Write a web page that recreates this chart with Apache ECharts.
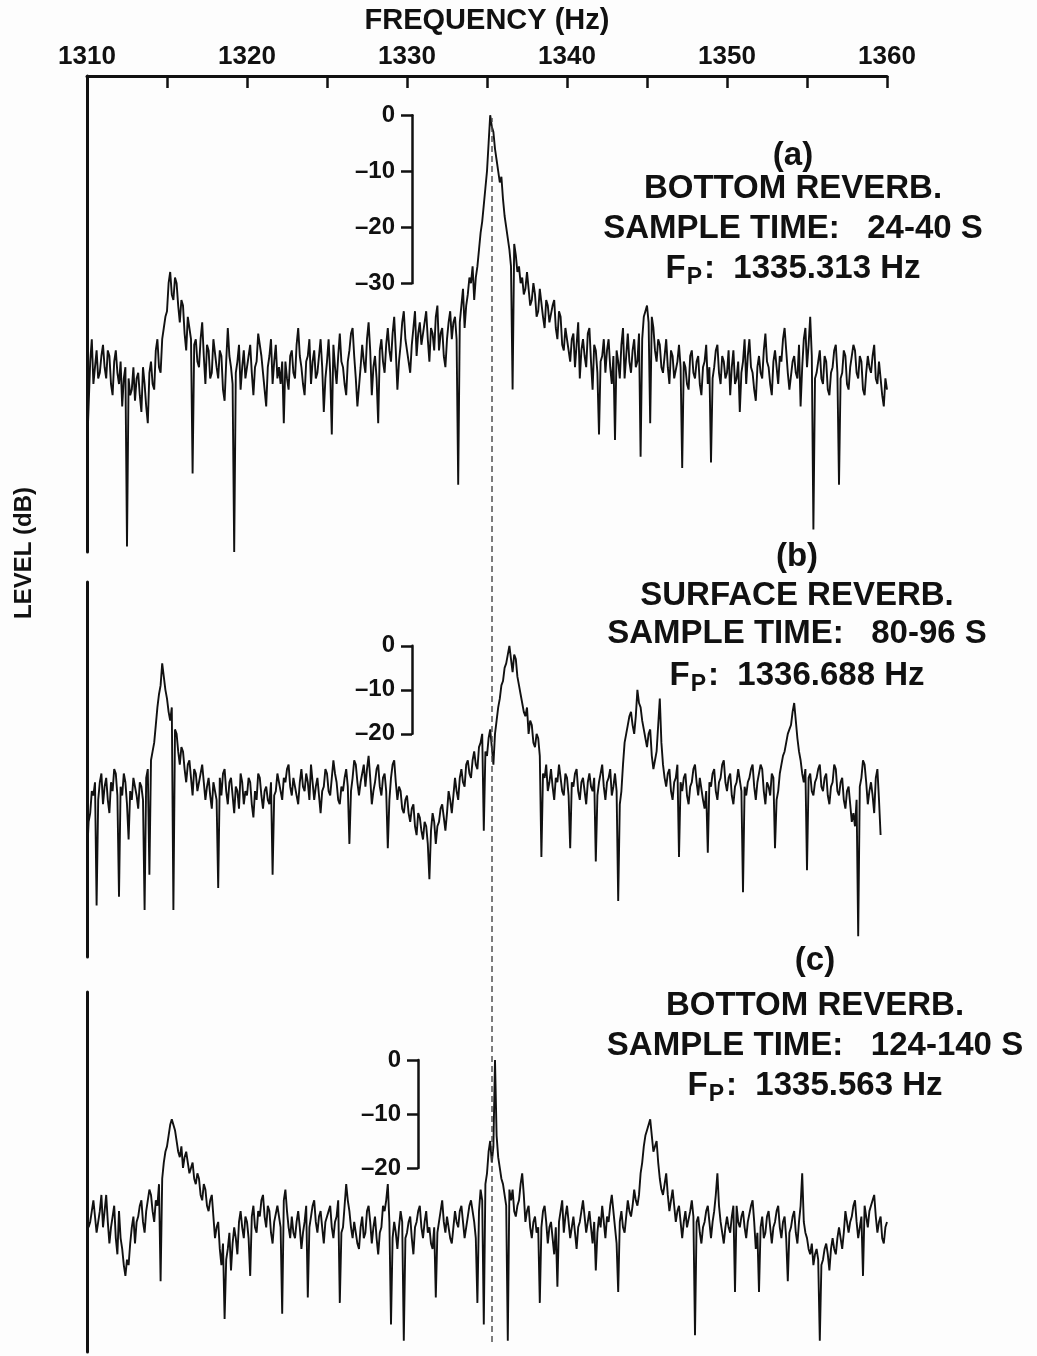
<!DOCTYPE html>
<html>
<head>
<meta charset="utf-8">
<script src="https://cdn.jsdelivr.net/npm/echarts@6/dist/echarts.min.js"></script>
<style>
  html, body { margin: 0; padding: 0; background: #fdfdfd; }
  #chart { width: 1037px; height: 1356px; }
</style>
</head>
<body>
<div id="chart"></div>
<script>
// frequency grid of the spectra (Hz)
const FREQ_START = 1310;
const FREQ_STEP = 0.1;
const FREQ_MIN = 1310;
const FREQ_MAX = 1360;
const REF_FREQ = 1335.313;   // dashed line, Fp of panel (a)

// levels in dB, one value per 0.1 Hz from 1310 Hz (one line = 1 Hz)
const levelA = [
  -60, -52, -44, -40, -48, -45, -42, -47, -46, -43,
  -41, -45, -47, -42, -43, -48, -50, -44, -42, -46,
  -48, -44, -52, -47, -45, -77, -47, -50, -49, -45,
  -51, -47, -46, -50, -53, -45, -48, -52, -55, -46,
  -44, -48, -49, -42, -40, -45, -46, -40, -38, -36,
  -35, -30, -28, -32, -33, -29, -30, -34, -37, -33,
  -34, -39, -42, -36, -38, -40, -64, -41, -40, -44,
  -45, -40, -37, -43, -48, -41, -42, -47, -46, -40,
  -40, -45, -47, -42, -43, -49, -51, -44, -38, -43,
  -45, -48, -78, -46, -44, -41, -49, -45, -42, -47,
  -47, -43, -41, -46, -50, -45, -44, -39, -39, -43,
  -46, -49, -52, -45, -43, -40, -48, -44, -41, -47,
  -45, -48, -44, -55, -44, -47, -49, -43, -42, -46,
  -47, -41, -38, -43, -45, -48, -50, -44, -43, -40,
  -48, -44, -42, -47, -46, -43, -40, -45, -53, -47,
  -44, -40, -46, -57, -41, -45, -48, -43, -39, -44,
  -45, -48, -50, -44, -42, -39, -38, -43, -47, -52,
  -52, -45, -41, -44, -46, -40, -37, -42, -50, -45,
  -43, -47, -55, -42, -40, -44, -46, -41, -38, -42,
  -44, -39, -36, -42, -49, -44, -41, -37, -35, -40,
  -40, -44, -46, -41, -38, -35, -43, -39, -37, -41,
  -41, -37, -35, -40, -44, -38, -39, -42, -36, -34,
  -42, -39, -38, -43, -45, -40, -37, -35, -40, -37,
  -36, -40, -66, -37, -34, -31, -38, -34, -32, -29,
  -30, -27, -33, -29, -27, -24, -21, -19, -16, -13,
  -10, -5, 0, -2, -3, -6, -8, -10, -12, -11,
  -15, -18, -20, -22, -24, -27, -49, -23, -25, -28,
  -27, -30, -29, -32, -31, -28, -28, -34, -33, -30,
  -32, -36, -35, -31, -31, -36, -38, -33, -34, -37,
  -37, -34, -33, -38, -40, -35, -36, -41, -42, -38,
  -38, -42, -44, -40, -39, -45, -41, -37, -47, -42,
  -40, -43, -45, -39, -38, -44, -49, -41, -42, -46,
  -57, -44, -43, -40, -46, -42, -40, -45, -48, -43,
  -58, -42, -44, -47, -41, -38, -47, -43, -39, -44,
  -46, -42, -40, -45, -44, -39, -61, -40, -36, -35,
  -34, -37, -55, -36, -38, -42, -44, -40, -41, -45,
  -46, -43, -40, -45, -48, -42, -43, -47, -47, -44,
  -41, -45, -63, -44, -45, -48, -49, -43, -42, -46,
  -47, -44, -43, -48, -50, -45, -44, -41, -48, -45,
  -62, -47, -45, -42, -41, -46, -48, -43, -44, -47,
  -46, -42, -50, -45, -42, -48, -47, -44, -53, -46,
  -44, -40, -48, -43, -40, -45, -46, -49, -51, -45,
  -43, -46, -47, -42, -39, -44, -45, -48, -50, -44,
  -42, -45, -48, -43, -44, -40, -38, -42, -46, -49,
  -49, -44, -43, -46, -47, -41, -52, -45, -40, -38,
  -45, -41, -36, -43, -74, -47, -46, -44, -42, -47,
  -48, -43, -44, -49, -50, -46, -45, -42, -41, -46,
  -66, -47, -46, -42, -43, -48, -49, -45, -45, -41,
  -42, -46, -47, -43, -44, -49, -50, -46, -43, -45,
  -46, -43, -41, -47, -48, -44, -44, -50, -52, -47,
  -49
];

const levelB = [
  -48, -40, -38, -33, -34, -31, -59, -35, -31, -29,
  -36, -32, -30, -35, -38, -31, -33, -28, -29, -34,
  -57, -32, -34, -29, -31, -36, -44, -33, -35, -30,
  -30, -34, -37, -31, -32, -35, -60, -30, -28, -52,
  -26, -24, -22, -18, -14, -11, -9, -4, -7, -10,
  -12, -15, -17, -14, -60, -19, -20, -24, -27, -23,
  -24, -28, -31, -27, -26, -30, -34, -28, -29, -33,
  -33, -29, -27, -31, -35, -32, -30, -34, -37, -31,
  -31, -35, -55, -30, -34, -29, -28, -33, -36, -31,
  -30, -34, -38, -32, -33, -37, -29, -31, -36, -33,
  -34, -30, -31, -36, -39, -33, -35, -29, -30, -34,
  -37, -33, -32, -35, -36, -31, -52, -34, -33, -29,
  -29, -33, -35, -30, -31, -28, -27, -32, -34, -30,
  -30, -34, -36, -31, -28, -32, -33, -29, -31, -35,
  -27, -31, -35, -32, -30, -34, -38, -33, -32, -28,
  -29, -33, -34, -30, -26, -29, -31, -35, -36, -32,
  -33, -30, -28, -32, -45, -33, -30, -26, -27, -31,
  -34, -31, -29, -27, -32, -28, -25, -30, -36, -33,
  -31, -28, -27, -32, -34, -30, -29, -33, -46, -35,
  -30, -27, -26, -31, -35, -32, -33, -37, -38, -35,
  -34, -38, -40, -37, -36, -41, -43, -38, -39, -42,
  -44, -40, -41, -45, -53, -42, -38, -40, -45, -41,
  -40, -37, -36, -39, -42, -38, -33, -35, -38, -34,
  -30, -33, -35, -30, -28, -31, -32, -27, -26, -29,
  -30, -26, -24, -27, -28, -23, -22, -20, -42, -24,
  -25, -21, -19, -23, -27, -20, -17, -14, -12, -9,
  -8, -5, -4, -2, 0, -3, -6, -2, -3, -7,
  -9, -11, -13, -15, -16, -14, -20, -17, -18, -22,
  -23, -20, -21, -25, -48, -29, -30, -27, -33, -31,
  -28, -32, -35, -30, -31, -27, -27, -33, -34, -29,
  -30, -34, -46, -31, -32, -29, -28, -33, -35, -31,
  -30, -33, -36, -31, -29, -32, -33, -30, -49, -34,
  -31, -29, -27, -32, -35, -31, -30, -28, -34, -32,
  -29, -33, -58, -36, -33, -27, -22, -20, -18, -16,
  -15, -18, -20, -16, -10, -13, -14, -17, -19, -21,
  -23, -20, -19, -25, -28, -26, -24, -18, -12, -22,
  -27, -30, -32, -29, -28, -33, -35, -31, -30, -27,
  -48, -31, -33, -30, -29, -34, -36, -32, -31, -28,
  -27, -31, -34, -30, -30, -35, -37, -33, -47, -31,
  -32, -29, -28, -33, -35, -31, -30, -27, -26, -31,
  -33, -30, -29, -34, -36, -32, -31, -28, -28, -33,
  -56, -32, -34, -31, -30, -28, -27, -32, -35, -31,
  -31, -27, -28, -33, -36, -31, -32, -34, -29, -30,
  -46, -35, -33, -29, -27, -25, -24, -22, -20, -19,
  -18, -15, -13, -17, -21, -24, -26, -29, -31, -28,
  -51, -30, -29, -33, -34, -31, -30, -28, -27, -32,
  -33, -30, -29, -34, -36, -32, -31, -27, -28, -33,
  -34, -31, -30, -35, -37, -33, -32, -36, -40, -38,
  -41, -35, -66, -32, -30, -26, -27, -31, -36, -33,
  -31, -34, -38, -30, -28, -35, -43
];

const levelC = [
  -27, -31, -30, -28, -26, -29, -32, -30, -28, -25,
  -31, -28, -25, -30, -34, -31, -29, -27, -33, -36,
  -28, -33, -35, -38, -40, -37, -38, -34, -31, -29,
  -34, -30, -29, -27, -26, -30, -32, -28, -28, -24,
  -25, -28, -30, -26, -27, -23, -41, -22, -19, -17,
  -16, -14, -12, -11, -11, -13, -15, -17, -18, -16,
  -20, -18, -17, -19, -21, -20, -19, -22, -23, -21,
  -22, -25, -26, -23, -24, -27, -28, -26, -25, -29,
  -33, -31, -30, -35, -38, -34, -48, -37, -35, -32,
  -39, -34, -31, -33, -36, -30, -28, -31, -33, -29,
  -30, -33, -40, -29, -27, -31, -32, -28, -29, -26,
  -25, -29, -31, -27, -28, -32, -34, -30, -30, -27,
  -27, -31, -47, -26, -24, -28, -31, -33, -29, -32,
  -33, -30, -28, -31, -35, -32, -30, -27, -44, -31,
  -29, -27, -26, -30, -32, -29, -28, -31, -34, -30,
  -30, -28, -27, -31, -33, -30, -29, -26, -45, -32,
  -31, -27, -23, -26, -28, -31, -33, -30, -30, -34,
  -35, -31, -29, -33, -32, -28, -27, -30, -34, -31,
  -29, -33, -36, -32, -31, -27, -28, -26, -23, -30,
  -49, -33, -30, -32, -35, -31, -28, -30, -52, -33,
  -32, -30, -29, -33, -36, -31, -30, -28, -27, -31,
  -33, -30, -28, -32, -31, -34, -35, -31, -44, -32,
  -30, -28, -26, -30, -32, -29, -29, -33, -34, -31,
  -28, -30, -31, -28, -27, -30, -33, -31, -29, -27,
  -26, -28, -30, -33, -45, -28, -24, -26, -49, -23,
  -21, -17, -15, -19, -16, 0, -14, -18, -20, -22,
  -23, -25, -27, -52, -24, -26, -24, -28, -29, -27,
  -26, -23, -21, -25, -30, -28, -27, -31, -33, -30,
  -29, -32, -31, -45, -31, -28, -27, -30, -34, -31,
  -30, -33, -36, -31, -42, -30, -28, -26, -32, -29,
  -27, -30, -33, -31, -29, -32, -35, -31, -30, -28,
  -26, -29, -32, -30, -28, -31, -34, -30, -39, -32,
  -29, -31, -27, -30, -33, -29, -30, -27, -25, -28,
  -31, -34, -43, -30, -28, -31, -32, -29, -26, -28,
  -29, -27, -24, -26, -27, -25, -21, -19, -16, -14,
  -13, -12, -11, -14, -17, -16, -15, -19, -22, -24,
  -25, -23, -21, -25, -28, -26, -24, -27, -30, -28,
  -27, -30, -33, -30, -28, -31, -31, -28, -26, -29,
  -51, -30, -29, -32, -34, -31, -30, -28, -27, -30,
  -33, -30, -28, -25, -21, -27, -30, -32, -34, -31,
  -29, -31, -32, -29, -27, -43, -27, -30, -31, -29,
  -28, -31, -33, -30, -30, -27, -26, -30, -35, -32,
  -43, -31, -29, -33, -32, -29, -28, -31, -34, -31,
  -30, -28, -27, -31, -33, -30, -29, -33, -41, -32,
  -31, -29, -28, -32, -34, -30, -27, -21, -30, -32,
  -33, -35, -36, -34, -38, -36, -35, -37, -52, -38,
  -37, -35, -34, -36, -39, -35, -33, -35, -36, -33,
  -31, -33, -35, -32, -28, -30, -32, -30, -29, -27,
  -26, -30, -33, -31, -29, -40, -27, -29, -31, -28,
  -28, -26, -25, -29, -32, -30, -29, -33, -34, -31,
  -30
];

const textA = ['(a)', 'BOTTOM REVERB.', 'SAMPLE TIME:   24-40 S', '1335.313 Hz'];
const textB = ['(b)', 'SURFACE REVERB.', 'SAMPLE TIME:   80-96 S', '1336.688 Hz'];
const textC = ['(c)', 'BOTTOM REVERB.', 'SAMPLE TIME:   124-140 S', '1335.563 Hz'];

const FONT = '"Liberation Sans", Arial, Helvetica, sans-serif';
const INK = '#111';

// panel layout
const panels = [
  { top: 76, height: 476, min: -78, max: 7, barX: 412, barRange: 30,
    levels: levelA, text: textA, textX: 793, textY: [156, 189, 229, 269] },
  { top: 582, height: 375, min: -70.7, max: 14.5, barX: 412, barRange: 20,
    levels: levelB, text: textB, textX: 797, textY: [557, 596, 634, 676] },
  { top: 992, height: 360, min: -54.1, max: 12.6, barX: 418, barRange: 20,
    levels: levelC, text: textC, textX: 815, textY: [961, 1006, 1046, 1086] }
];

const toPoints = (levels) =>
  levels.map((v, i) => [Number((FREQ_START + i * FREQ_STEP).toFixed(1)), v]);

const grid = [];
const xAxis = [];
const yAxis = [];
const series = [];
const graphic = [];

// spectrum panels
panels.forEach((p, k) => {
  grid.push({ left: 87, width: 800, top: p.top, height: p.height, outerBoundsMode: 'none' });
  xAxis.push(k === 0 ? {
    gridIndex: k, type: 'value', position: 'top', min: FREQ_MIN, max: FREQ_MAX, interval: 5,
    name: 'FREQUENCY (Hz)', nameLocation: 'middle', nameGap: 41,
    nameTextStyle: { fontFamily: FONT, fontWeight: 'bold', fontSize: 29, color: INK },
    axisLine: { onZero: false, lineStyle: { color: INK, width: 3 } },
    axisTick: { inside: true, length: 12, lineStyle: { color: INK, width: 2.5 } },
    axisLabel: {
      margin: 6, fontFamily: FONT, fontWeight: 'bold', fontSize: 26, color: INK,
      formatter: v => (v % 10 === 0 ? String(v) : '')
    },
    splitLine: { show: false }
  } : {
    gridIndex: k, type: 'value', min: FREQ_MIN, max: FREQ_MAX, show: false
  });
  yAxis.push({
    gridIndex: k, type: 'value', min: p.min, max: p.max,
    axisLine: { show: true, onZero: false, lineStyle: { color: INK, width: 3 } },
    axisTick: { show: false }, axisLabel: { show: false }, splitLine: { show: false }
  });
  series.push({
    type: 'line', xAxisIndex: k, yAxisIndex: k, data: toPoints(p.levels),
    showSymbol: false, silent: true,
    lineStyle: { color: INK, width: 1.9 }
  });
});

// dashed reference line through all panels
grid.push({ left: 87, width: 800, top: 118, height: 1224, outerBoundsMode: 'none' });
xAxis.push({ gridIndex: 3, type: 'value', min: FREQ_MIN, max: FREQ_MAX, show: false });
yAxis.push({ gridIndex: 3, type: 'value', min: 0, max: 1, show: false });
series.push({
  type: 'line', xAxisIndex: 3, yAxisIndex: 3, showSymbol: false, silent: true,
  data: [[REF_FREQ, 0], [REF_FREQ, 1]],
  lineStyle: { color: '#444', width: 1.4, type: [6, 4] }
});

// dB scale bars
panels.forEach((p, k) => {
  const span = p.max - p.min;
  grid.push({
    left: p.barX, width: 1, outerBoundsMode: 'none',
    top: p.top + (p.max / span) * p.height,
    height: (p.barRange / span) * p.height
  });
  xAxis.push({ gridIndex: 4 + k, type: 'value', min: 0, max: 1, show: false });
  yAxis.push({
    gridIndex: 4 + k, type: 'value', position: 'left', min: -p.barRange, max: 0, interval: 10,
    axisLine: { show: true, onZero: false, lineStyle: { color: INK, width: 2.5 } },
    axisTick: { show: true, length: 11, lineStyle: { color: INK, width: 2.5 } },
    axisLabel: {
      margin: 17, fontFamily: FONT, fontWeight: 'bold', fontSize: 24, color: INK,
      formatter: v => (v < 0 ? '\u2013' + (-v) : String(v))
    },
    splitLine: { show: false }
  });

  // panel annotation
  p.text.forEach((line, j) => {
    const style = {
      textAlign: 'center', textVerticalAlign: 'middle', fill: INK,
      font: 'bold 33px ' + FONT
    };
    if (j === 3) {
      style.text = '{f|F}{s|P}{f|:  ' + line + '}';
      style.rich = {
        f: { fontSize: 33, fontWeight: 'bold', fontFamily: FONT, fill: INK },
        s: { fontSize: 23, fontWeight: 'bold', fontFamily: FONT, fill: INK, padding: [18, 2, 0, 1] }
      };
    } else {
      style.text = line;
    }
    graphic.push({ type: 'text', x: p.textX, y: p.textY[j], style });
  });
});

graphic.push({
  type: 'text', x: 24, y: 553, rotation: Math.PI / 2,
  style: {
    text: 'LEVEL (dB)', textAlign: 'center', textVerticalAlign: 'middle',
    fill: INK, font: 'bold 24px ' + FONT
  }
});

const chart = echarts.init(document.getElementById('chart'));
chart.setOption({
  backgroundColor: '#fdfdfd',
  animation: false,
  grid, xAxis, yAxis, series, graphic
});
</script>
</body>
</html>
